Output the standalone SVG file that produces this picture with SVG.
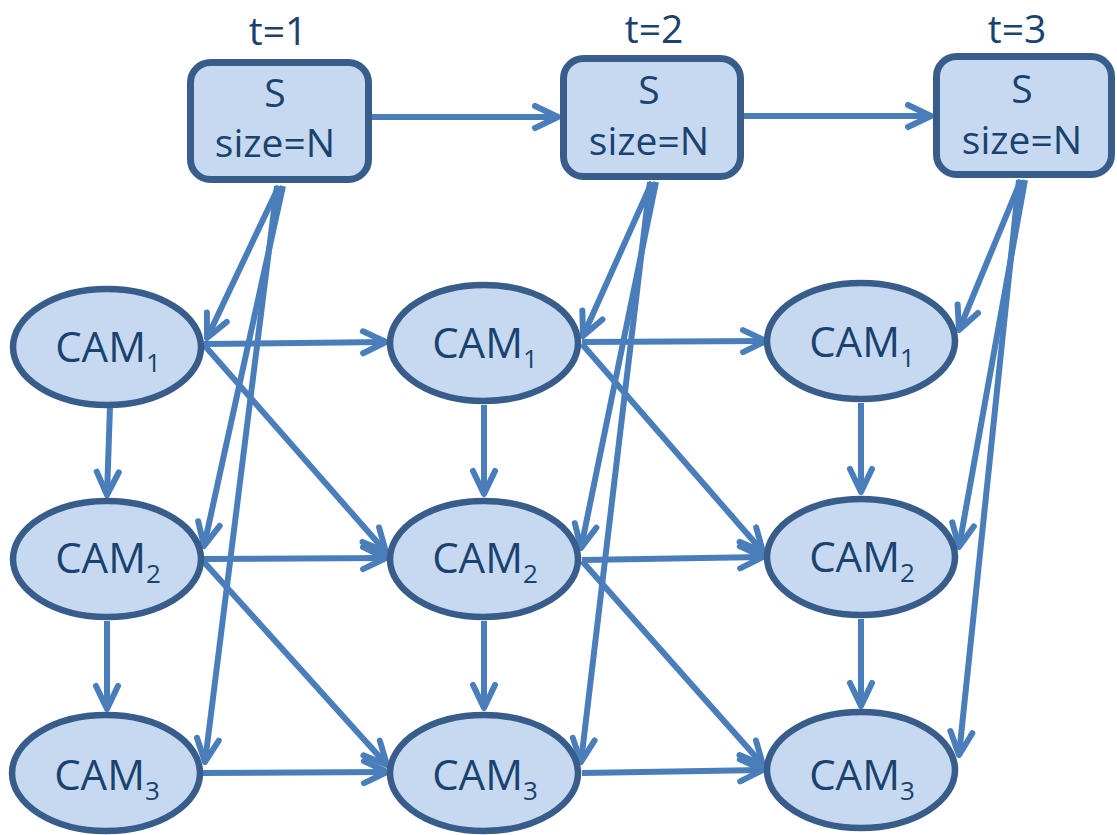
<svg xmlns="http://www.w3.org/2000/svg" width="1117" height="835" viewBox="0 0 1117 835">
<defs>
<style>
.box{fill:#C6D9F1;stroke:#385D8A;stroke-width:7}
.cam{fill:#C6D9F1;stroke:#385D8A;stroke-width:6.5}
.lbl{font-family:"Open Sans","Liberation Sans",sans-serif;fill:#1A426F;text-anchor:middle}
.t{font-size:39px}
.s{font-size:39px}
.c{font-size:42px}
.sub{font-size:26px}
.e{fill:none;stroke:#4A7EBB;stroke-width:6;marker-end:url(#ah)}
</style>
<marker id="ah" markerUnits="userSpaceOnUse" markerWidth="40" markerHeight="40" refX="0" refY="0" orient="auto" overflow="visible">
<path d="M-23,-11 L0,0 L-23,11" fill="none" stroke="#4A7EBB" stroke-width="6" stroke-linecap="round" stroke-linejoin="round"/>
</marker>
</defs>
<rect width="1117" height="835" fill="#FFFFFF"/>

<g id="labels">
<text class="lbl t" x="278" y="45">t=1</text>
<text class="lbl t" x="654" y="43">t=2</text>
<text class="lbl t" x="1017" y="43">t=3</text>
</g>

<g id="connectors">
<line class="e" x1="372" y1="117" x2="558" y2="117"/>
<line class="e" x1="744" y1="116" x2="931" y2="116"/>
<line class="e" x1="279" y1="186" x2="207" y2="338"/>
<line class="e" x1="283" y1="186" x2="204" y2="546"/>
<line class="e" x1="277" y1="186" x2="205" y2="762"/>
<line class="e" x1="652" y1="182" x2="583" y2="336"/>
<line class="e" x1="656" y1="182" x2="581" y2="548"/>
<line class="e" x1="650" y1="182" x2="581" y2="762"/>
<line class="e" x1="1021" y1="180" x2="959" y2="330"/>
<line class="e" x1="1025" y1="180" x2="959" y2="547"/>
<line class="e" x1="1019" y1="180" x2="959" y2="755"/>
<line class="e" x1="110" y1="406" x2="107" y2="495"/>
<line class="e" x1="107" y1="621" x2="107" y2="709"/>
<line class="e" x1="484" y1="405" x2="484" y2="494"/>
<line class="e" x1="484" y1="621" x2="484" y2="708"/>
<line class="e" x1="861" y1="403" x2="861" y2="492"/>
<line class="e" x1="861" y1="619" x2="861" y2="706"/>
<line class="e" x1="204" y1="344" x2="386" y2="342"/>
<line class="e" x1="582" y1="342" x2="766" y2="341"/>
<line class="e" x1="203" y1="559" x2="386" y2="558"/>
<line class="e" x1="582" y1="560" x2="763" y2="557"/>
<line class="e" x1="202" y1="773" x2="387" y2="772"/>
<line class="e" x1="582" y1="773" x2="763" y2="770"/>
<line class="e" x1="205" y1="346" x2="386" y2="552"/>
<line class="e" x1="203" y1="561" x2="387" y2="765"/>
<line class="e" x1="582" y1="344" x2="763" y2="552"/>
<line class="e" x1="582" y1="561" x2="763" y2="765"/>
</g>

<g id="S1">
<rect class="box" x="190.5" y="62.5" width="178" height="117" rx="20"/>
<text class="lbl s" x="275" y="107">S</text>
<text class="lbl s" x="275" y="157">size=N</text>
</g>
<g id="S2">
<rect class="box" x="563.5" y="58.5" width="177" height="118" rx="20"/>
<text class="lbl s" x="649" y="104">S</text>
<text class="lbl s" x="649" y="155">size=N</text>
</g>
<g id="S3">
<rect class="box" x="936.5" y="56.5" width="175" height="118" rx="20"/>
<text class="lbl s" x="1022" y="103">S</text>
<text class="lbl s" x="1022" y="154">size=N</text>
</g>

<g id="CAM1_t1">
<ellipse class="cam" cx="107" cy="347" rx="94" ry="58"/>
<text class="lbl c" x="108" y="362">CAM<tspan class="sub" dy="10">1</tspan></text>
</g>
<g id="CAM2_t1">
<ellipse class="cam" cx="107" cy="559" rx="94" ry="58"/>
<text class="lbl c" x="108" y="573">CAM<tspan class="sub" dy="10">2</tspan></text>
</g>
<g id="CAM3_t1">
<ellipse class="cam" cx="106" cy="773" rx="94" ry="58"/>
<text class="lbl c" x="107" y="790">CAM<tspan class="sub" dy="10">3</tspan></text>
</g>
<g id="CAM1_t2">
<ellipse class="cam" cx="484" cy="343" rx="94" ry="58"/>
<text class="lbl c" x="485" y="358">CAM<tspan class="sub" dy="10">1</tspan></text>
</g>
<g id="CAM2_t2">
<ellipse class="cam" cx="484" cy="559" rx="94" ry="58"/>
<text class="lbl c" x="485" y="573">CAM<tspan class="sub" dy="10">2</tspan></text>
</g>
<g id="CAM3_t2">
<ellipse class="cam" cx="484" cy="773" rx="94" ry="58"/>
<text class="lbl c" x="485" y="790">CAM<tspan class="sub" dy="10">3</tspan></text>
</g>
<g id="CAM1_t3">
<ellipse class="cam" cx="861" cy="341" rx="94" ry="58"/>
<text class="lbl c" x="862" y="357">CAM<tspan class="sub" dy="10">1</tspan></text>
</g>
<g id="CAM2_t3">
<ellipse class="cam" cx="861" cy="557" rx="94" ry="58"/>
<text class="lbl c" x="862" y="572">CAM<tspan class="sub" dy="10">2</tspan></text>
</g>
<g id="CAM3_t3">
<ellipse class="cam" cx="861" cy="770" rx="94" ry="58"/>
<text class="lbl c" x="862" y="790">CAM<tspan class="sub" dy="10">3</tspan></text>
</g>
</svg>
